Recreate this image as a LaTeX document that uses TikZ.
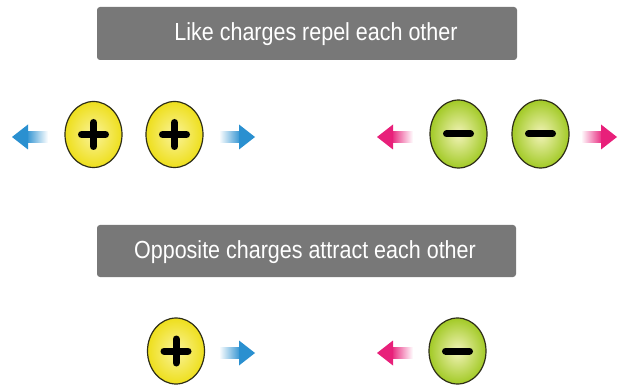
\documentclass[tikz,border=0pt]{standalone}
\usepackage{fontspec}
\newfontfamily\bannerfont[FakeStretch=0.87]{Liberation Sans}
\usetikzlibrary{shapes.geometric}
\definecolor{bannergray}{HTML}{787878}
\definecolor{arrblue}{HTML}{2A90D0}
\definecolor{arrpink}{HTML}{E8207A}
\definecolor{yelout}{HTML}{EEDF1C}
\definecolor{yelin}{HTML}{FAF39A}
\definecolor{grnout}{HTML}{A2CA26}
\definecolor{grnin}{HTML}{F2F3B8}
\definecolor{rimcol}{HTML}{2E2E18}
\tikzset{
  banner/.style={draw=none, fill=bannergray, rounded corners=3pt},
  bannertext/.style={text=white, font=\bannerfont\fontsize{24.7}{28}\selectfont, inner sep=0pt},
  charge/.style={ellipse, draw=rimcol, line width=1.2pt, minimum width=57pt, minimum height=66pt, inner sep=0pt},
  poscharge/.style={charge, shading=radial, inner color=yelin, outer color=yelout,
    path picture={
      \draw[black, line width=7pt, line cap=round]
        ([xshift=-12pt]path picture bounding box.center) -- ([xshift=12pt]path picture bounding box.center);
      \draw[black, line width=7pt, line cap=round]
        ([yshift=-12pt]path picture bounding box.center) -- ([yshift=12pt]path picture bounding box.center);}},
  negcharge/.style={charge, shading=radial, inner color=grnin, outer color=grnout,
    path picture={
      \draw[black, line width=7pt, line cap=round]
        ([xshift=-12pt]path picture bounding box.center) -- ([xshift=12pt]path picture bounding box.center);}},
}
% right-pointing arrow: tip x, centre y, colour
\newcommand\arrowRt[3]{%
  \shade[left color=white, right color=#3] (#1-36,#2-5.5) rectangle (#1-14,#2+5.5);
  \fill[#3] (#1-16,#2-12.5) -- (#1,#2) -- (#1-16,#2+12.5) -- cycle;}
% left-pointing arrow: tip x, centre y, colour
\newcommand\arrowLt[3]{%
  \shade[left color=#3, right color=white] (#1+14,#2-5.5) rectangle (#1+36,#2+5.5);
  \fill[#3] (#1+16,#2-12.5) -- (#1,#2) -- (#1+16,#2+12.5) -- cycle;}
\begin{document}
\begin{tikzpicture}[x=1pt, y=-1pt]
\useasboundingbox (0,0) rectangle (618,387);
\fill[white] (0,0) rectangle (618,387);
% banners
\node[banner, minimum width=420pt, minimum height=53pt, inner sep=0pt] (b1) at (307,33.5) {};
\node[bannertext] (t1) at (316,34) {Like charges repel each other};
\node[banner, minimum width=419pt, minimum height=52pt, inner sep=0pt] (b2) at (306.5,251) {};
\node[bannertext] (t2) at (305,252) {Opposite charges attract each other};
% row 1
\node[poscharge] (p1) at (93.5,134.5) {};
\node[poscharge] (p2) at (174.5,134.5) {};
\node[negcharge, minimum height=68pt] (n1) at (458.5,134) {};
\node[negcharge, minimum height=68pt] (n2) at (540.5,134) {};
\arrowLt{12}{137}{arrblue}
\arrowRt{255}{137}{arrblue}
\arrowLt{377}{137}{arrpink}
\arrowRt{617}{137}{arrpink}
% row 3
\node[poscharge] (p3) at (176,351) {};
\node[negcharge] (n3) at (457.5,351) {};
\arrowRt{255}{353}{arrblue}
\arrowLt{377}{353}{arrpink}
\end{tikzpicture}
\end{document}
